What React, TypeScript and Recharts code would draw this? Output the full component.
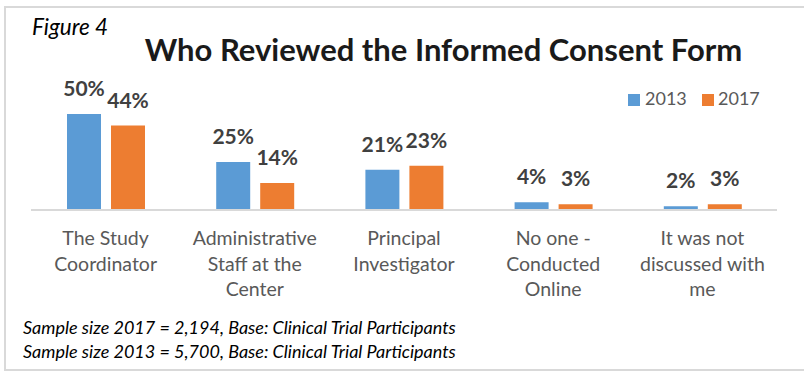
import React from "react";
import { BarChart, Bar, XAxis, YAxis, LabelList } from "recharts";

const categoryLines: string[][] = [
  ["The Study", "Coordinator"],
  ["Administrative", "Staff at the", "Center"],
  ["Principal", "Investigator"],
  ["No one -", "Conducted", "Online"],
  ["It was not", "discussed with", "me"],
];
const categories = categoryLines.map((l) => l.join(" "));
const values2013 = [50, 25, 21, 4, 2];
const values2017 = [44, 14, 23, 3, 3];
const seriesNames = ["2013", "2017"];
const seriesColors = ["#5b9bd5", "#ed7d31"];
const titleText = "Who Reviewed the Informed Consent Form";
const figureText = "Figure 4";
const footnotes = [
  "Sample size 2017 = 2,194, Base: Clinical Trial Participants",
  "Sample size 2013 = 5,700, Base: Clinical Trial Participants",
];

const data = categories.map((name, i) => ({
  name,
  lines: categoryLines[i],
  v2013: values2013[i],
  v2017: values2017[i],
}));

const FONT = "Lato, 'Open Sans', sans-serif";

const CategoryTick = (props: any) => {
  const { x, y, index } = props;
  const lines = categoryLines[index] || [];
  return (
    <text
      x={x}
      y={y}
      textAnchor="middle"
      fill="#595959"
      style={{ fontFamily: FONT, fontSize: 19.5 }}
    >
      {lines.map((ln, i) => (
        <tspan key={i} x={x} y={y + 35 + i * 25.5}>
          {ln}
        </tspan>
      ))}
    </text>
  );
};

export default function App() {
  return (
    <div
      style={{
        position: "absolute",
        left: 0,
        top: 0,
        width: 804,
        height: 376,
        overflow: "hidden",
        background: "#ffffff",
      }}
    >
      <div
        style={{
          position: "absolute",
          left: 4,
          top: 6,
          width: 900,
          height: 361,
          border: "2px solid #d9d9d9",
        }}
      />
      <div style={{ position: "absolute", left: 0, top: 0 }}>
        <BarChart
          width={804}
          height={376}
          data={data}
          margin={{ top: 94.8, right: 27, bottom: 136, left: 31 }}
          barGap={10}
          barSize={34}
        >
          <XAxis
            dataKey="name"
            height={30}
            tickLine={false}
            tickSize={0}
            tickMargin={0}
            interval={0}
            axisLine={{ stroke: "#d9d9d9", strokeWidth: 2 }}
            tick={<CategoryTick />}
          />
          <YAxis hide width={0} domain={[0, 60]} />
          <Bar dataKey="v2013" name={seriesNames[0]} fill={seriesColors[0]} isAnimationActive={false}>
            <LabelList
              dataKey="v2013"
              position="top"
              offset={18}
              formatter={(v: any) => `${v}%`}
              style={{ fontFamily: FONT, fontSize: 21, fontWeight: 700, fill: "#404040" }}
            />
          </Bar>
          <Bar dataKey="v2017" name={seriesNames[1]} fill={seriesColors[1]} isAnimationActive={false}>
            <LabelList
              dataKey="v2017"
              position="top"
              offset={18}
              formatter={(v: any) => `${v}%`}
              style={{ fontFamily: FONT, fontSize: 21, fontWeight: 700, fill: "#404040" }}
            />
          </Bar>
        </BarChart>
      </div>
      <svg
        width={804}
        height={376}
        style={{ position: "absolute", left: 0, top: 0, pointerEvents: "none" }}
      >
        <text x={32} y={35} style={{ fontFamily: FONT, fontSize: 22.5, fontStyle: "italic" }} fill="#000">
          {figureText}
        </text>
        <text
          x={443.5}
          y={61}
          textAnchor="middle"
          style={{ fontFamily: FONT, fontSize: 31, fontWeight: 700 }}
          fill="#1a1a1a"
        >
          {titleText}
        </text>
        <rect x={628} y={94} width={12} height={12} fill={seriesColors[0]} />
        <text x={645} y={105} style={{ fontFamily: FONT, fontSize: 18 }} fill="#595959">
          {seriesNames[0]}
        </text>
        <rect x={702} y={94} width={12} height={12} fill={seriesColors[1]} />
        <text x={718} y={105} style={{ fontFamily: FONT, fontSize: 18 }} fill="#595959">
          {seriesNames[1]}
        </text>
        {footnotes.map((f, i) => (
          <text
            key={i}
            x={23}
            y={334 + i * 24}
            style={{ fontFamily: FONT, fontSize: 18, fontStyle: "italic" }}
            fill="#000"
          >
            {f}
          </text>
        ))}
      </svg>
    </div>
  );
}
